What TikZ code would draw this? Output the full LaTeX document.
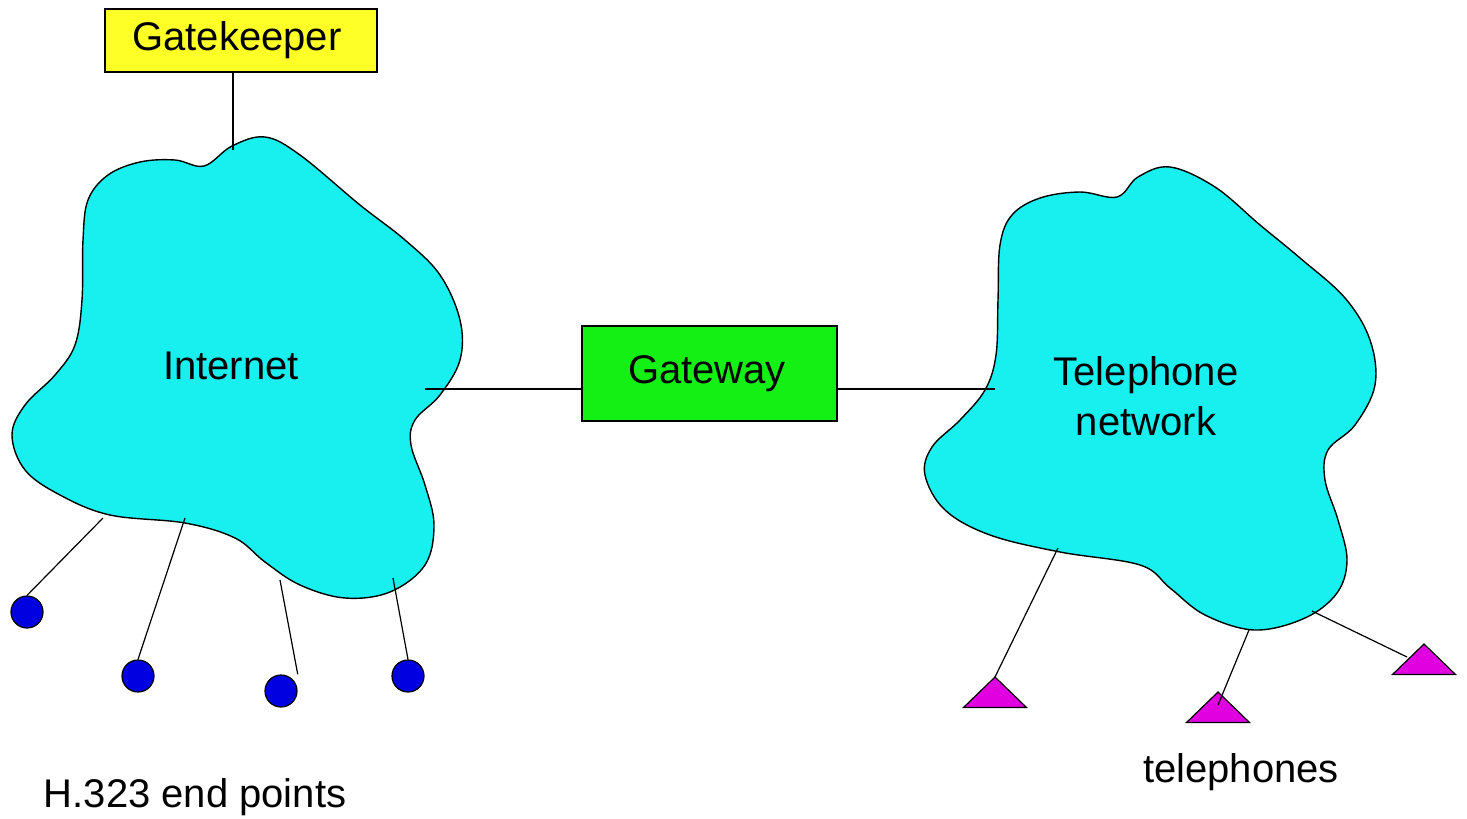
\documentclass[tikz,border=0pt]{standalone}
\usepackage{fontspec}
\setmainfont{Liberation Sans}
\usepackage{tikz}

\definecolor{netcyan}{RGB}{24,240,240}
\definecolor{gkyellow}{RGB}{255,255,40}
\definecolor{gwgreen}{RGB}{20,240,20}
\definecolor{epblue}{RGB}{0,0,224}
\definecolor{telmagenta}{RGB}{224,0,224}

\begin{document}
\begin{tikzpicture}[x=1pt,y=-1pt,line width=1.2pt,
    font=\fontsize{40}{50}\selectfont,
    cloud/.style={draw,fill=netcyan,line width=1.4pt},
    box/.style={draw,line width=1.4pt,inner sep=0pt},
    endpt/.style={circle,draw,fill=epblue,minimum size=32,inner sep=0pt},
    phone/.style={draw,fill=telmagenta,line width=1.2pt}]
  \useasboundingbox (0,0) rectangle (1467,819);
  % the two networks
  \draw[cloud] plot[smooth cycle,tension=0.6] coordinates {(204,166) (175,160) (140,162) (108,175) (88,200)
    (83,240) (82,300) (75,345) (55,375) (25,405) (12,435) (25,470) (60,495) (110,515) (185,523) (235,538)
    (265,562) (300,585) (345,598) (390,592) (425,565) (434,525) (425,485) (411,445) (415,420) (440,395)
    (460,360) (460,320) (440,275) (405,240) (360,205) (300,155) (265,137) (232,146)};
  \draw[cloud] plot[smooth cycle,tension=0.6] coordinates {(1117,197) (1080,192) (1040,198) (1012,215) (1000,245)
    (998,300) (996,355) (985,390) (960,420) (932,447) (925,475) (945,510) (990,535) (1060,552) (1140,565)
    (1170,588) (1205,615) (1255,630) (1305,618) (1337,593) (1347,560) (1338,520) (1325,480) (1328,450)
    (1355,425) (1375,385) (1370,340) (1345,298) (1300,258) (1260,225) (1215,187) (1170,167) (1138,177)};
  \node (inet) at (231,366) {Internet};
  \node[align=center] (tnet) at (1146,396) {Telephone\\network};

  \node[box,fill=gkyellow,minimum width=272,minimum height=63] (gk) at (241,40.5) {Gatekeeper\hspace*{8pt}};
  \node[box,fill=gwgreen,minimum width=255,minimum height=95] (gw) at (709.5,373.5) {\raisebox{-2pt}{Gateway}\hspace*{5pt}};

  % attach points inside the clouds
  \coordinate (i0) at (233,150);
  \coordinate (i5) at (425,389);
  \coordinate (t0) at (995,389);
  \foreach \n/\x/\y in {1/103/518,2/185/518,3/280/580,4/393/578}
    \coordinate (i\n) at (\x,\y);
  \foreach \n/\x/\y in {1/1058/548,2/1249/630,3/1312/611}
    \coordinate (t\n) at (\x,\y);

  % end points and telephones
  \foreach \n/\x/\y in {1/27/612,2/138/676,3/281/691,4/408/676}
    \node[endpt] (e\n) at (\x,\y) {};
  \foreach \n/\x/\y in {1/995/677,2/1218/692,3/1424/644}
    \filldraw[phone] (\x,\y) coordinate (p\n) -- ++(-31.5,30.5) -- ++(63,0) -- cycle;

  \draw (gk.south -| i0) -- (i0);
  \draw (i5) -- (gw.west |- i5);
  \draw (gw.east |- t0) -- (t0);
  \draw (i1) -- (e1.north);
  \draw (i2) -- (e2.north);
  \draw (i3) -- ([shift={(5,-5)}]e3.north east);
  \draw (i4) -- (e4.north);
  \draw (t1) -- (p1);
  \draw (t2) -- ([shift={(0,13)}]p2);
  \draw (t3) -- ([shift={(-17,13)}]p3);

  \node (eplabel) at (195,797) {H.323 end points};
  \node (tellabel) at (1241,772) {telephones};
\end{tikzpicture}
\end{document}
